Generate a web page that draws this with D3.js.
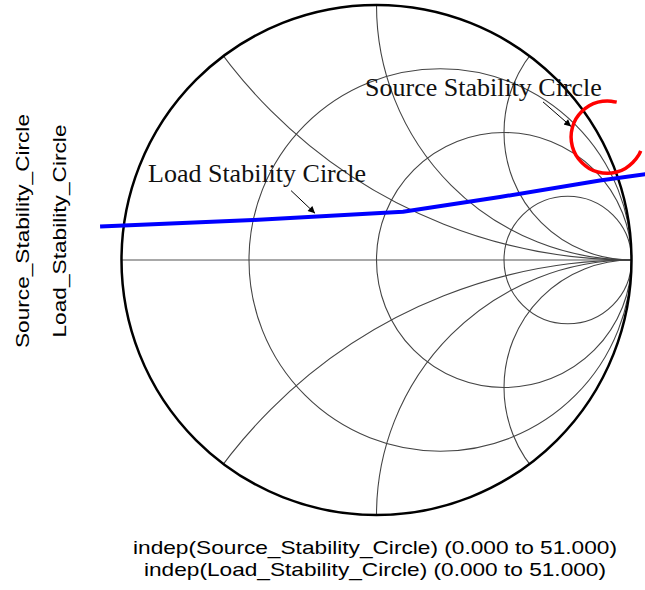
<!DOCTYPE html>
<html>
<head>
<meta charset="utf-8">
<script src="https://cdn.jsdelivr.net/npm/d3@7"></script>
<style>
  html, body { margin: 0; padding: 0; background: #ffffff; }
  svg { display: block; }
</style>
</head>
<body>
<svg id="chart" width="645" height="590"></svg>
<script>
// Smith chart grid: constant-resistance circles and constant-reactance arcs
const resistanceValues = [1 / 3, 1, 3];
const reactanceValues = [0.5, 1, 2, -0.5, -1, -2];

// Source stability circle (reflection coefficient, real / imaginary parts)
const sourceRe = [0.942, 0.905, 0.868, 0.834, 0.805, 0.782, 0.768, 0.763, 0.768, 0.782,
                  0.805, 0.834, 0.868, 0.905, 0.942, 0.976, 1.005, 1.028, 1.036];
const sourceIm = [0.619, 0.624, 0.619, 0.605, 0.582, 0.553, 0.519, 0.482, 0.445, 0.411,
                  0.382, 0.359, 0.345, 0.340, 0.345, 0.359, 0.382, 0.411, 0.428];

// Load stability circle (visible segment of a very large circle)
const loadRe = [-1.084, -0.484, 0.104, 0.484, 0.876, 1.060];
const loadIm = [0.131, 0.157, 0.189, 0.247, 0.312, 0.337];

// Axis labels
const yLabels = ["Source_Stability_Circle", "Load_Stability_Circle"];
const xLabels = ["indep(Source_Stability_Circle) (0.000 to 51.000)",
                 "indep(Load_Stability_Circle) (0.000 to 51.000)"];

// Callouts: text, text anchor point and arrow (all in reflection-coefficient units)
const calloutText = ["Source Stability Circle", "Load Stability Circle"];
const calloutPos = [[-0.045, 0.643], [-0.896, 0.305]];
const calloutArrow = [[[0.653, 0.620], [0.763, 0.524]], [[-0.335, 0.272], [-0.241, 0.183]]];

const svg = d3.select("#chart");

const gx = d3.scaleLinear().domain([-1, 1]).range([121.5, 631.5]);
const gy = d3.scaleLinear().domain([-1, 1]).range([515, 5]);
const unit = gx(1) - gx(0);

const defs = svg.append("defs");
defs.append("clipPath").attr("id", "unitDisk")
  .append("circle")
  .attr("cx", gx(0)).attr("cy", gy(0)).attr("r", unit);

defs.append("marker")
  .attr("id", "arrowHead")
  .attr("viewBox", "0 0 10 10")
  .attr("refX", 10).attr("refY", 5)
  .attr("markerWidth", 9).attr("markerHeight", 7)
  .attr("markerUnits", "userSpaceOnUse")
  .attr("orient", "auto")
  .append("path")
  .attr("d", "M0,0 L10,5 L0,10 Z")
  .attr("fill", "#000");

const grid = svg.append("g").attr("clip-path", "url(#unitDisk)");

// horizontal real axis
grid.append("line")
  .attr("x1", gx(-1)).attr("x2", gx(1))
  .attr("y1", gy(0)).attr("y2", gy(0))
  .attr("stroke", "#a8a8a8").attr("stroke-width", 2);

// constant resistance circles
grid.selectAll("circle.res")
  .data(resistanceValues)
  .join("circle")
  .attr("class", "res")
  .attr("cx", r => gx(r / (1 + r)))
  .attr("cy", gy(0))
  .attr("r", r => unit / (1 + r))
  .attr("fill", "none")
  .attr("stroke", "#444")
  .attr("stroke-width", 1.1);

// constant reactance arcs
grid.selectAll("circle.reac")
  .data(reactanceValues)
  .join("circle")
  .attr("class", "reac")
  .attr("cx", gx(1))
  .attr("cy", x => gy(1 / x))
  .attr("r", x => unit / Math.abs(x))
  .attr("fill", "none")
  .attr("stroke", "#444")
  .attr("stroke-width", 1.1);

// outer boundary |Gamma| = 1
svg.append("circle")
  .attr("cx", gx(0)).attr("cy", gy(0)).attr("r", unit)
  .attr("fill", "none")
  .attr("stroke", "#000")
  .attr("stroke-width", 2.5);

const line = d3.line().x(d => gx(d[0])).y(d => gy(d[1]));

// load stability circle
svg.append("path")
  .datum(d3.zip(loadRe, loadIm))
  .attr("d", line)
  .attr("fill", "none")
  .attr("stroke", "#0000ff")
  .attr("stroke-width", 4)
  .attr("stroke-linejoin", "round");

// source stability circle
svg.append("path")
  .datum(d3.zip(sourceRe, sourceIm))
  .attr("d", line.curve(d3.curveCatmullRom))
  .attr("fill", "none")
  .attr("stroke", "#ff0000")
  .attr("stroke-width", 3.5);

// callouts
calloutText.forEach((t, i) => {
  svg.append("text")
    .attr("x", gx(calloutPos[i][0]))
    .attr("y", gy(calloutPos[i][1]))
    .attr("font-family", "'Liberation Serif', 'Times New Roman', serif")
    .attr("font-size", 26)
    .attr("fill", "#111")
    .text(t);
  const a = calloutArrow[i];
  svg.append("line")
    .attr("x1", gx(a[0][0])).attr("y1", gy(a[0][1]))
    .attr("x2", gx(a[1][0])).attr("y2", gy(a[1][1]))
    .attr("stroke", "#000")
    .attr("stroke-width", 1)
    .attr("marker-end", "url(#arrowHead)");
});

// left (vertical) trace labels
const yLabelX = [28.5, 65.5];
const yLabelLen = [234, 213];
yLabels.forEach((t, i) => {
  svg.append("text")
    .attr("transform", `translate(${yLabelX[i]},231) rotate(-90)`)
    .attr("text-anchor", "middle")
    .attr("font-family", "'Liberation Sans', Arial, sans-serif")
    .attr("font-size", 18.5)
    .attr("textLength", yLabelLen[i])
    .attr("lengthAdjust", "spacingAndGlyphs")
    .attr("fill", "#000")
    .text(t);
});

// bottom (independent variable) labels
const xLabelY = [554, 576];
const xLabelLen = [484, 462];
xLabels.forEach((t, i) => {
  svg.append("text")
    .attr("x", 375)
    .attr("y", xLabelY[i])
    .attr("text-anchor", "middle")
    .attr("font-family", "'Liberation Sans', Arial, sans-serif")
    .attr("font-size", 18.5)
    .attr("textLength", xLabelLen[i])
    .attr("lengthAdjust", "spacingAndGlyphs")
    .attr("fill", "#000")
    .text(t);
});
</script>
</body>
</html>
